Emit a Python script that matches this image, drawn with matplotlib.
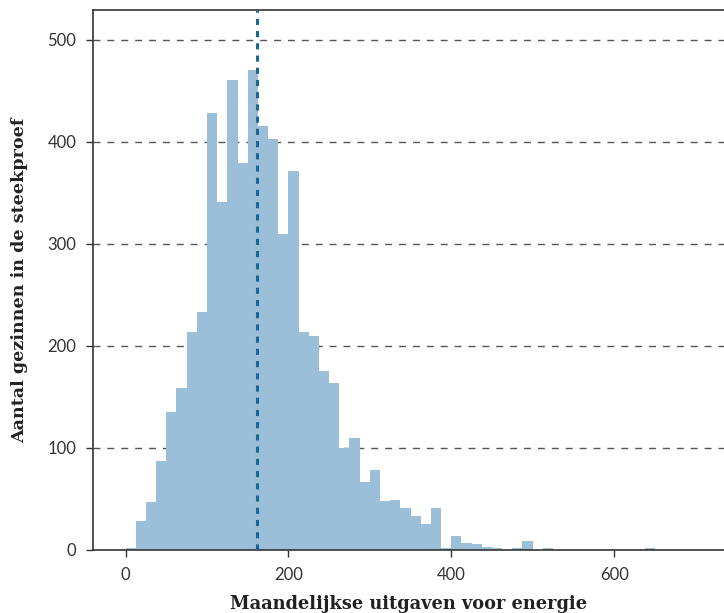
import numpy as np
import matplotlib
matplotlib.use('Agg')
import matplotlib.pyplot as plt

# histogram counts per bin of 12.5
binWidth = 12.5
counts = [2, 28, 47, 87, 135, 159, 214, 233, 428, 341,
          460, 379, 470, 415, 403, 310, 371, 214, 210, 175,
          164, 100, 110, 67, 78, 48, 49, 41, 33, 25,
          41, 2, 14, 7, 6, 3, 2, 0, 2, 9,
          0, 2, 0, 0, 0, 0, 0, 0, 0, 0,
          0, 2]
meanValue = 162

barColor = '#9bbfd8'
lineColor = '#1a6796'

edges = np.arange(len(counts)) * binWidth

fig = plt.figure(figsize=(7.24, 6.13), dpi=100)
ax = fig.add_axes([0.1285, 0.1028, 0.8715, 0.8809])

ax.bar(edges, counts, width=binWidth, align='edge', color=barColor, linewidth=0, zorder=2)
ax.axvline(meanValue, color=lineColor, linestyle=(0, (2, 2)), linewidth=2.2, zorder=3)

ax.set_xlim(-40, 735)
ax.set_ylim(0, 529)
ax.set_xticks([0, 200, 400, 600])
ax.set_yticks([0, 100, 200, 300, 400, 500])

for y in [100, 200, 300, 400, 500]:
    ax.axhline(y, color='#555555', linestyle=(0, (5, 5)), linewidth=1, zorder=1)

for s in ['left', 'top', 'bottom']:
    ax.spines[s].set_color('#333333')
    ax.spines[s].set_linewidth(1.2)
ax.spines['right'].set_visible(False)

ax.tick_params(axis='both', direction='out', length=5, width=1, color='#333333',
               labelsize=12, labelcolor='#333333', pad=7)
for lab in ax.get_xticklabels() + ax.get_yticklabels():
    lab.set_family('Lato')

ax.set_xlabel('Maandelijkse uitgaven voor energie', fontsize=12.8, fontweight='bold',
              family='DejaVu Serif', color='#222222', labelpad=9)
ax.set_ylabel('Aantal gezinnen in de steekproef', fontsize=12.6, fontweight='bold',
              family='DejaVu Serif', color='#222222', labelpad=14)

fig.savefig('out.png', dpi=100)
